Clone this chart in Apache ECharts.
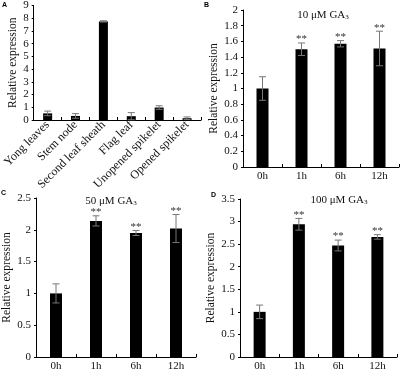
<!DOCTYPE html>
<html>
<head>
<meta charset="utf-8">
<script src="https://cdn.jsdelivr.net/npm/echarts@6/dist/echarts.min.js"></script>
<style>
  html, body { margin: 0; padding: 0; background: #fff; }
  #chart { width: 400px; height: 372px; }
</style>
</head>
<body>
<div id="chart"></div>
<script>
// panel A - tissues
const tissueCats = ["Yong leaves", "Stem node", "Second leaf sheath", "Flag leaf", "Unopened spikelet", "Opened spikelet"]
const tissueVals = [0.52, 0.32, 7.75, 0.3, 0.98, 0.14]
const tissueErr = [0.18, 0.18, 0.05, 0.28, 0.14, 0.1]
// panels B-D - time course
const timeCats = ["0h", "1h", "6h", "12h"]
const ga10Vals = [1.0, 1.5, 1.57, 1.51]
const ga10Err = [0.15, 0.08, 0.04, 0.22]
const ga50Vals = [1.0, 2.14, 1.95, 2.02]
const ga50Err = [0.15, 0.08, 0.04, 0.22]
const ga100Vals = [1.0, 2.94, 2.47, 2.66]
const ga100Err = [0.15, 0.13, 0.12, 0.05]
const sigMarks = ["", "**", "**", "**"]
const panelTitles = ["10 μM GA", "50 μM GA", "100 μM GA"]

const FONT = "Liberation Serif"
const TXT = "#111"

const chart = echarts.init(document.getElementById("chart"))

const errSeries = (idx, vals, errs, sigs) => ({
  type: "custom",
  xAxisIndex: idx,
  yAxisIndex: idx,
  z: 5,
  data: vals.map((v, i) => [i, v, errs[i]]),
  encode: { x: 0, y: 1 },
  renderItem: (params, api) => {
    const i = api.value(0)
    const v = api.value(1)
    const e = api.value(2)
    const hi = api.coord([i, v + e])
    const lo = api.coord([i, v - e])
    const cap = 3.5
    const st = { stroke: "#777", lineWidth: 1 }
    const kids = [
      { type: "line", shape: { x1: hi[0], y1: hi[1], x2: lo[0], y2: lo[1] }, style: st },
      { type: "line", shape: { x1: hi[0] - cap, y1: hi[1], x2: hi[0] + cap, y2: hi[1] }, style: st },
      { type: "line", shape: { x1: lo[0] - cap, y1: lo[1], x2: lo[0] + cap, y2: lo[1] }, style: st },
    ]
    const sig = sigs ? sigs[params.dataIndex] : ""
    if (sig) {
      kids.push({
        type: "text",
        x: hi[0],
        y: hi[1] + 2,
        style: {
          text: sig,
          fill: "#333",
          font: "11px " + FONT,
          align: "center",
          verticalAlign: "bottom",
        },
      })
    }
    return { type: "group", children: kids }
  },
})

const yAx = (idx, max, step, gap) => ({
  type: "value",
  gridIndex: idx,
  min: 0,
  max: max,
  interval: step,
  name: "Relative expression",
  nameLocation: "middle",
  nameGap: gap,
  nameTextStyle: { fontFamily: FONT, fontSize: 11.5, color: TXT },
  axisLine: { show: true, lineStyle: { color: "#000", width: 1 } },
  axisTick: { show: true, inside: false, length: 2, lineStyle: { color: "#000" } },
  axisLabel: { fontFamily: FONT, fontSize: 11, color: TXT, margin: 5 },
  splitLine: { show: false },
})

const xAx = (idx, cats, extra) => ({
  type: "category",
  gridIndex: idx,
  data: cats,
  axisLine: { lineStyle: { color: "#000", width: 1 } },
  axisTick: { show: true, inside: true, length: 3, lineStyle: { color: "#000" } },
  axisLabel: Object.assign({ fontFamily: FONT, fontSize: 11, color: TXT, margin: 4 }, extra || {}),
})

const barSeries = (idx, vals, w) => ({
  type: "bar",
  xAxisIndex: idx,
  yAxisIndex: idx,
  data: vals,
  barWidth: w,
  itemStyle: { color: "#000" },
})

const gaTitle = (text, cx, top) => ({
  text: "{a|" + text + "}{s|3}",
  left: cx,
  top: top,
  padding: 0,
  textAlign: "center",
  textStyle: {
    fontWeight: "normal",
    rich: {
      a: { fontFamily: FONT, fontSize: 11, fontWeight: "normal", color: TXT, lineHeight: 12, verticalAlign: "bottom" },
      s: { fontFamily: FONT, fontSize: 7, fontWeight: "normal", color: TXT, lineHeight: 9, verticalAlign: "bottom" },
    },
  },
})

const letter = (t, x, y) => ({
  text: t,
  left: x,
  top: y,
  padding: 0,
  textStyle: { fontFamily: "Liberation Sans", fontWeight: "bold", fontSize: 7, color: "#000" },
})

const option = {
  backgroundColor: "#fff",
  animation: false,
  title: [
    letter("A", 2, 2),
    letter("B", 204, 2),
    letter("C", 1, 190),
    letter("D", 211, 192),
    gaTitle(panelTitles[0], 323, 9),
    gaTitle(panelTitles[1], 111, 195),
    gaTitle(panelTitles[2], 339, 194),
  ],
  grid: [
    { left: 33, top: 5, width: 168, height: 115 },
    { left: 243, top: 10, width: 156, height: 157 },
    { left: 36, top: 198, width: 160, height: 160 },
    { left: 240, top: 199, width: 157, height: 160 },
  ],
  xAxis: [
    xAx(0, tissueCats, { rotate: 45, margin: 3, interval: 0, fontSize: 12 }),
    xAx(1, timeCats),
    xAx(2, timeCats),
    xAx(3, timeCats),
  ],
  yAxis: [
    yAx(0, 9, 1, 13),
    yAx(1, 2, 0.2, 19),
    yAx(2, 2.5, 0.5, 17),
    yAx(3, 3.5, 0.5, 20),
  ],
  series: [
    barSeries(0, tissueVals, 9),
    errSeries(0, tissueVals, tissueErr, null),
    barSeries(1, ga10Vals, 12),
    errSeries(1, ga10Vals, ga10Err, sigMarks),
    barSeries(2, ga50Vals, 12),
    errSeries(2, ga50Vals, ga50Err, sigMarks),
    barSeries(3, ga100Vals, 12),
    errSeries(3, ga100Vals, ga100Err, sigMarks),
  ],
}

chart.setOption(option)
</script>
</body>
</html>
